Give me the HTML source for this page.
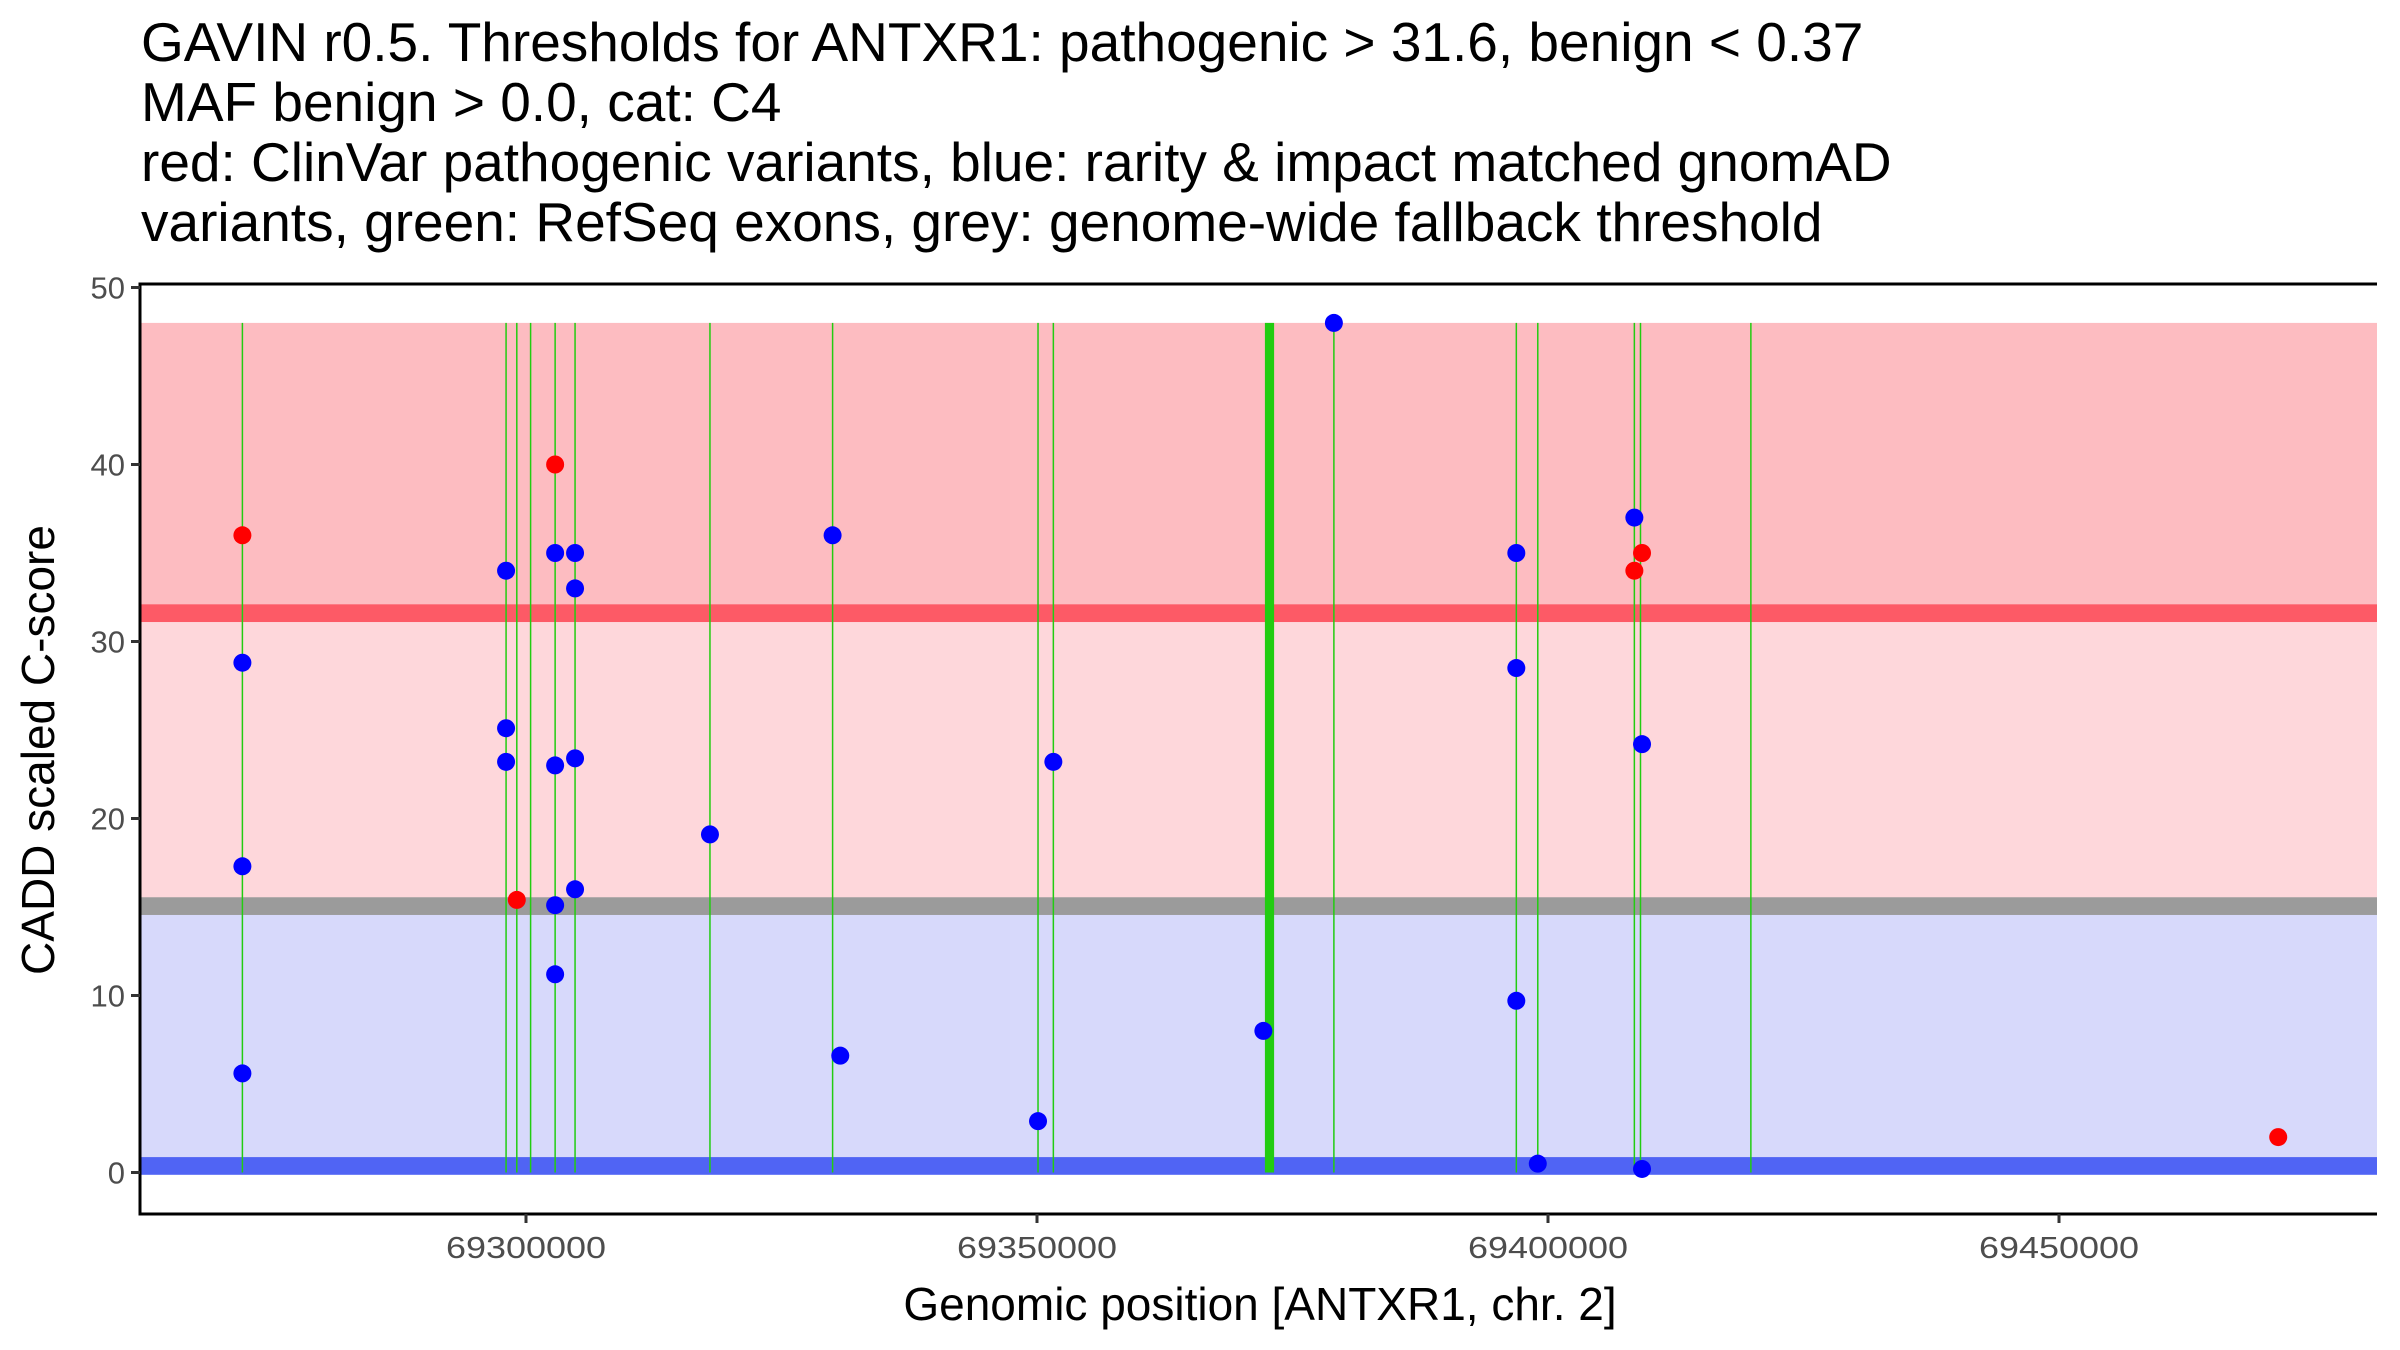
<!DOCTYPE html>
<html><head><meta charset="utf-8"><style>
html,body{margin:0;padding:0;background:#fff;}
svg{display:block;font-family:"Liberation Sans",sans-serif;}
</style></head><body>
<svg id="chart" width="2400" height="1350" viewBox="0 0 2400 1350" xmlns="http://www.w3.org/2000/svg">
<g font-size="55" fill="#000">
<text x="141" y="61">GAVIN r0.5. Thresholds for ANTXR1: pathogenic &gt; 31.6, benign &lt; 0.37</text>
<text x="141" y="121">MAF benign &gt; 0.0, cat: C4</text>
<text x="141" y="181">red: ClinVar pathogenic variants, blue: rarity &amp; impact matched gnomAD</text>
<text x="141" y="241">variants, green: RefSeq exons, grey: genome-wide fallback threshold</text>
</g>
<g id="plot"></g>
<text x="1260" y="1320" font-size="46" text-anchor="middle">Genomic position [ANTXR1, chr. 2]</text>
<text transform="translate(54,750) rotate(-90)" font-size="46" text-anchor="middle">CADD scaled C-score</text>
</svg>
<script>
const xTicks = [69300000, 69350000, 69400000, 69450000];
const yTicks = [0, 10, 20, 30, 40, 50];
const exonStarts = [69272250,69298050,69299100,69300450,69302850,69304800,69318000,69330000,69350100,69351600,69372300,69379050,69396900,69399000,69408450,69409050,69419850];
const exonEnds   = [69272250,69298050,69299100,69300450,69302850,69304800,69318000,69330000,69350100,69351600,69373200,69379050,69396900,69399000,69408450,69409050,69419850];
const redPos = [69272250,69302850,69299100,69408450,69409200,69471450];
const redScore = [36,40,15.4,34,35,2];
const bluePos = [69272250,69272250,69272250,69298050,69298050,69298050,69302850,69304800,69304800,69302850,69304800,69304800,69302850,69302850,69318000,69330000,69330750,69350100,69351600,69372150,69379050,69396900,69396900,69396900,69399000,69408450,69409200,69409200];
const blueScore = [28.8,17.3,5.6,34,25.1,23.2,35,35,33,23,23.4,16,15.1,11.2,19.1,36,6.6,2.9,23.2,8,48,35,28.5,9.7,0.5,37,24.2,0.2];
const pathogenicThreshold = 31.6;
const fallbackThreshold = 15.05;
const benignThreshold = 0.37;
const scoreMax = 48;

const NS='http://www.w3.org/2000/svg';
const L=140,R=2377,T=284,B=1214;
const x0=69300000, px0=526, pxPer=511/50000;
const X=v=>px0+(v-x0)*pxPer;
const Y=v=>1172.5-v*17.7;
const g=document.getElementById('plot');
function mk(t,a){const e=document.createElementNS(NS,t);for(const k in a)e.setAttribute(k,a[k]);g.appendChild(e);return e;}
let e;
e=mk('rect',{x:L,y:Y(scoreMax),width:R-L,height:Y(pathogenicThreshold)-Y(scoreMax),fill:'#fdbcc1'});


e=mk('rect',{x:L,y:Y(pathogenicThreshold),width:R-L,height:Y(fallbackThreshold)-Y(pathogenicThreshold),fill:'#fed7db'});


e=mk('rect',{x:L,y:Y(fallbackThreshold),width:R-L,height:Y(benignThreshold)-Y(fallbackThreshold),fill:'#d7d9fb'});


e=mk('rect',{x:L,y:Y(pathogenicThreshold+0.5),width:R-L,height:17.7,fill:'#fd5a66'});


e=mk('rect',{x:L,y:Y(fallbackThreshold+0.5),width:R-L,height:17.7,fill:'#9b9b9b'});


e=mk('rect',{x:L,y:Y(benignThreshold+0.5),width:R-L,height:17.7,fill:'#5064f4'});


for(let i=0;i<exonStarts.length;i++){
  const a=X(exonStarts[i]),b=X(exonEnds[i]);const w=Math.max(1.5,b-a);
  e=mk('rect',{x:a-(b-a<1.5?0.75:0),y:Y(scoreMax),width:w,height:Y(0)-Y(scoreMax),fill:'#22cc11'});
  
  
}
for(let i=0;i<bluePos.length;i++){
  e=mk('circle',{cx:X(bluePos[i]),cy:Y(blueScore[i]),r:9,fill:'#0000ff'});
  
  
}
for(let i=0;i<redPos.length;i++){
  e=mk('circle',{cx:X(redPos[i]),cy:Y(redScore[i]),r:9,fill:'#ff0000'});
  
  
}
e=mk('path',{d:`M${L} ${T}H${R}M${L} ${T-1.5}V${B}H${R}`,stroke:'#000',fill:'none','stroke-width':3});


yTicks.forEach(v=>{
  e=mk('line',{x1:L-9,x2:L,y1:Y(v),y2:Y(v),stroke:'#333','stroke-width':3});
  
  
  e=mk('text',{x:L-15,y:Y(v)+11,'font-size':31,fill:'#4d4d4d','text-anchor':'end'});
  e.textContent=v;
  
  
});
xTicks.forEach(v=>{
  e=mk('line',{x1:X(v),x2:X(v),y1:B,y2:B+9,stroke:'#333','stroke-width':3});
  
  
  e=mk('text',{x:X(v),y:B+44,'font-size':31,fill:'#4d4d4d','text-anchor':'middle',textLength:160,lengthAdjust:'spacingAndGlyphs'});
  e.textContent=v;
  
  
});
</script>
</body></html>
